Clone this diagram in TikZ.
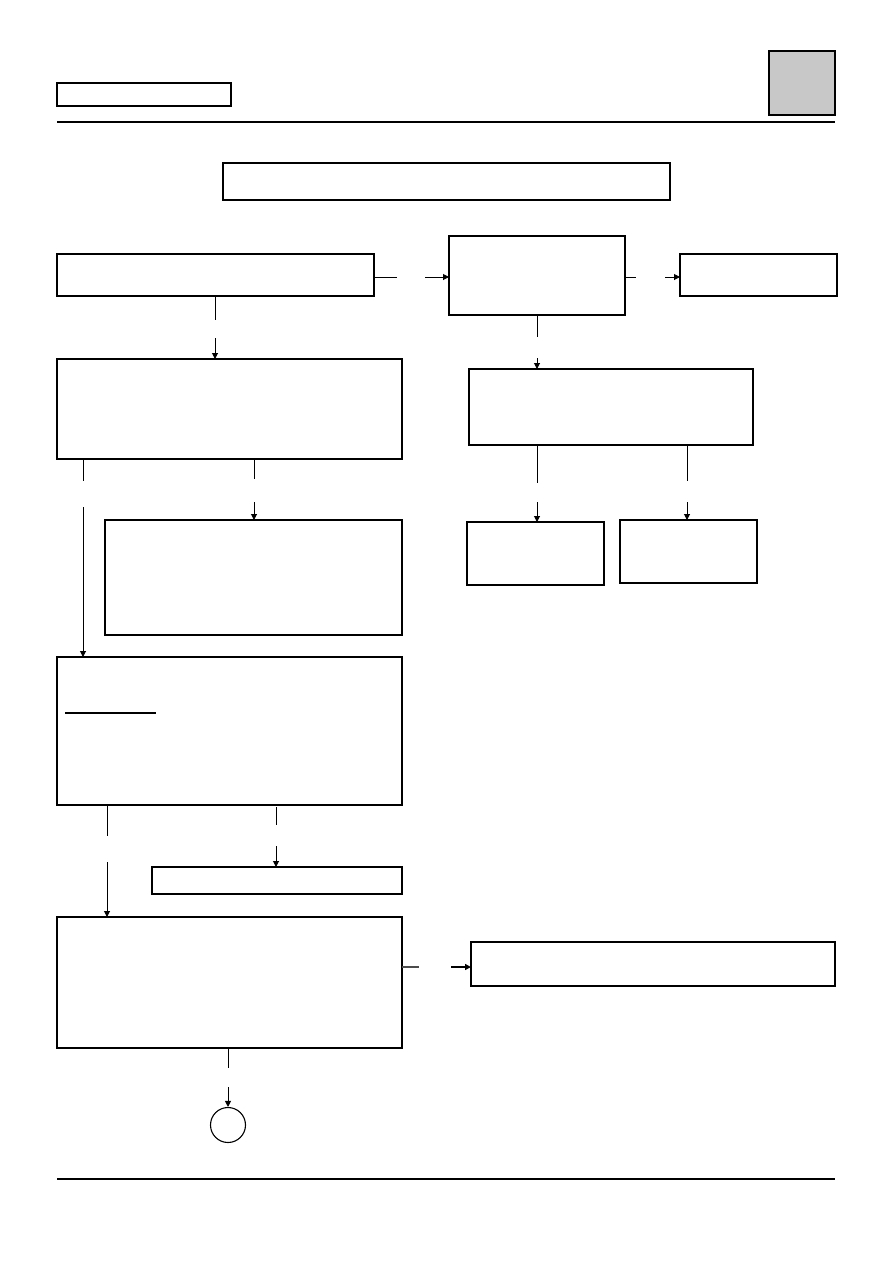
\documentclass[tikz,border=0pt]{standalone}
\usetikzlibrary{arrows.meta}
\definecolor{tabgray}{RGB}{200,200,200}
\begin{document}
\begin{tikzpicture}[x=1pt,y=-1pt,
  box/.style={draw, line width=1.1pt, anchor=north west, inner sep=0pt, outer sep=0pt},
  heavy/.style={line width=2.6pt},
  conn/.style={line width=1pt},
  arr/.style={line width=1pt, -{Triangle[length=6pt,width=6pt]}},
  rulex/.style={line width=2.2pt}]
\useasboundingbox (0,0) rectangle (893,1263);
% header
\node[box, minimum width=174pt, minimum height=23pt] (hdr) at (57,83) {};
\node[box, fill=tabgray, minimum width=66pt, minimum height=64pt] (tab) at (769,51) {};
\coordinate (r1a) at (57,122); \coordinate (r1b) at (835,122);
\draw[rulex] (r1a) -- (r1b);
\coordinate (r2a) at (57,1179); \coordinate (r2b) at (835,1179);
\draw[rulex] (r2a) -- (r2b);
% boxes
\node[box, minimum width=447pt, minimum height=37pt] (T) at (223,163) {};
\draw[line width=2pt] (T.north east) -- (T.south east);
\node[box, minimum width=317pt, minimum height=42pt] (A) at (57,254) {};
\node[box, minimum width=176pt, minimum height=79pt] (B) at (449,236) {};
\draw[heavy] (B.north west) -- (B.north east);
\node[box, minimum width=157pt, minimum height=42pt] (C) at (680,254) {};
\node[box, minimum width=345pt, minimum height=100pt] (D) at (57,359) {};
\draw[heavy] (D.south west) -- (D.south east);
\node[box, minimum width=284pt, minimum height=76pt] (E) at (469,369) {};
\node[box, minimum width=297pt, minimum height=115pt] (F) at (105,520) {};
\node[box, minimum width=137pt, minimum height=63pt] (G) at (467,522) {};
\node[box, minimum width=137pt, minimum height=63pt] (H) at (620,520) {};
\draw[line width=2pt] (H.north west) -- (H.south west);
\draw[line width=2pt] (H.north east) -- (H.south east);
\node[box, minimum width=345pt, minimum height=148pt] (I) at (57,657) {};
\coordinate (ul1) at (65,713); \coordinate (ul2) at (156,713);
\draw[line width=2pt] (ul1) -- (ul2);
\node[box, minimum width=250pt, minimum height=27pt] (J) at (152,867) {};
\node[box, minimum width=345pt, minimum height=131pt] (K) at (57,917) {};
\node[box, minimum width=364pt, minimum height=44pt] (L) at (471,942) {};
\draw[heavy] (L.north west) -- (L.north east);
\draw[line width=2pt] (L.north west) -- (L.south west);
\node[draw, circle, line width=1.1pt, minimum size=35pt, inner sep=0pt] (Z) at (228,1125) {};
% connectors (broken)
\coordinate (ab1) at (397,277); \coordinate (ab2) at (425,277);
\draw[conn] (A.east |- ab1) -- (ab1);
\draw[arr] (ab2) -- (B.west |- ab2);
\coordinate (bc1) at (636,277); \coordinate (bc2) at (665,277);
\draw[conn] (B.east |- bc1) -- (bc1);
\draw[arr] (bc2) -- (C.west |- bc2);
\coordinate (ad1) at (215,320); \coordinate (ad2) at (215,338);
\draw[conn] (A.south -| ad1) -- (ad1);
\draw[arr] (ad2) -- (D.north -| ad2);
\coordinate (be1) at (537,337); \coordinate (be2) at (537,358);
\draw[conn] (B.south -| be1) -- (be1);
\draw[arr] (be2) -- (E.north -| be2);
\coordinate (di1) at (83,481); \coordinate (di2) at (83,507);
\draw[conn] (D.south -| di1) -- (di1);
\draw[arr] (di2) -- (I.north -| di2);
\coordinate (df1) at (254,479); \coordinate (df2) at (254,502);
\draw[conn] (D.south -| df1) -- (df1);
\draw[arr] (df2) -- (F.north -| df2);
\coordinate (eg1) at (537,483); \coordinate (eg2) at (537,502);
\draw[conn] (E.south -| eg1) -- (eg1);
\draw[arr] (eg2) -- (G.north -| eg2);
\coordinate (eh1) at (687,481); \coordinate (eh2) at (687,502);
\draw[conn] (E.south -| eh1) -- (eh1);
\draw[arr] (eh2) -- (H.north -| eh2);
\coordinate (ik1) at (107,836); \coordinate (ik2) at (107,862);
\draw[conn] (I.south -| ik1) -- (ik1);
\draw[arr] (ik2) -- (K.north -| ik2);
\coordinate (ij0) at (276,807); \coordinate (ij1) at (276,825); \coordinate (ij2) at (276,846);
\draw[conn] (ij0) -- (ij1);
\draw[arr] (ij2) -- (J.north -| ij2);
\coordinate (kl1) at (419,967); \coordinate (kl2) at (451,967);
\draw[line width=1.8pt, black!70] (K.east |- kl1) -- (kl1);
\draw[line width=1.8pt, -{Triangle[length=6pt,width=6pt]}] (kl2) -- (L.west |- kl2);
\coordinate (kz1) at (228,1068); \coordinate (kz2) at (228,1087);
\draw[conn] (K.south -| kz1) -- (kz1);
\draw[arr] (kz2) -- (Z.north);
\end{tikzpicture}
\end{document}
